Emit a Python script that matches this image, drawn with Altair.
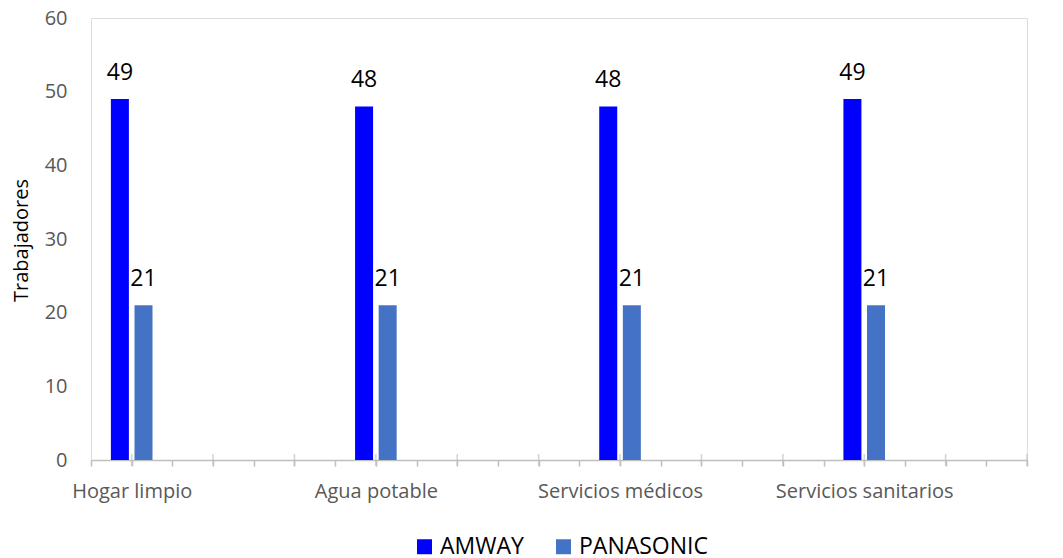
import altair as alt
import pandas as pd

# ---- data ----
categories = ["Hogar limpio", "Agua potable", "Servicios médicos", "Servicios sanitarios"]
series = ["AMWAY", "PANASONIC"]
amway = [49, 48, 48, 49]
panasonic = [21, 21, 21, 21]
colors = ["#0000FF", "#4472C4"]

FONT = "Open Sans"
AXIS_GRAY = "#BFBFBF"
LABEL_GRAY = "#595959"

# category slots on the axis (Excel-like category axis with tick slots)
n_slots = 23
first_slot = 1
slot_step = 6
offsets = {"AMWAY": -0.29, "PANASONIC": 0.29}

rows = []
for i, cat in enumerate(categories):
    pos = first_slot + slot_step * i
    for s, vals in zip(series, [amway, panasonic]):
        rows.append({"cat": cat, "serie": s, "valor": vals[i], "pos": pos + offsets[s]})
df = pd.DataFrame(rows)

cross_ticks = pd.DataFrame({"pos": list(range(1, n_slots + 1, 2))})

label_expr = " : ".join(
    f"datum.value == {first_slot + slot_step * i} ? '{c}'" for i, c in enumerate(categories)
) + " : ''"

xscale = alt.Scale(domain=[0, n_slots], nice=False, zero=False, padding=0)
yscale = alt.Scale(domain=[0, 60], nice=False)

x_enc = alt.X(
    "pos:Q",
    scale=xscale,
    axis=alt.Axis(
        values=list(range(n_slots + 1)),
        labelExpr=label_expr,
        title=None,
        grid=False,
        domainColor=AXIS_GRAY,
        domainWidth=1.5,
        tickColor=AXIS_GRAY,
        tickWidth=1.5,
        tickSize=6,
        labelFontSize=20,
        labelColor=LABEL_GRAY,
        labelFont=FONT,
        labelPadding=15,
        labelOverlap=False,
        labelFlush=False,
        labelBound=False,
    ),
)

y_enc = alt.Y(
    "valor:Q",
    scale=yscale,
    axis=alt.Axis(
        values=[0, 10, 20, 30, 40, 50, 60],
        title="Trabajadores",
        grid=False,
        domain=False,
        ticks=False,
        tickSize=0,
        labelFontSize=20,
        labelColor=LABEL_GRAY,
        labelFont=FONT,
        labelPadding=24,
        titleFont=FONT,
        titleFontSize=20,
        titleFontWeight="normal",
        titleColor="#000000",
        titleAngle=-90,
        titleAlign="center",
        titleBaseline="alphabetic",
        titleX=-64,
        titleY=222,
    ),
)

color_enc = alt.Color(
    "serie:N",
    scale=alt.Scale(domain=series, range=colors),
    legend=alt.Legend(
        title=None,
        orient="none",
        legendX=322,
        legendY=517,
        direction="horizontal",
        symbolType="square",
        symbolSize=225,
        symbolStrokeWidth=0,
        labelFontSize=23,
        labelFont=FONT,
        labelColor="#000000",
        labelOffset=4,
        columnPadding=28,
        padding=0,
    ),
)

bars = alt.Chart(df).mark_bar(size=18).encode(
    x=x_enc,
    y=y_enc,
    color=color_enc,
)

labels = alt.Chart(df).mark_text(
    font=FONT, fontSize=23, color="#000000", baseline="alphabetic", dy=-19.5
).encode(
    x=alt.X("pos:Q", scale=xscale),
    y=alt.Y("valor:Q", scale=yscale),
    text="valor:Q",
)

ticks = alt.Chart(cross_ticks).mark_tick(
    orient="vertical", size=12, thickness=1.5, color=AXIS_GRAY
).encode(
    x=alt.X("pos:Q", scale=xscale),
    y=alt.datum(0),
)

chart = (
    alt.layer(bars, labels, ticks)
    .properties(
        width=936,
        height=442,
        autosize=alt.AutoSizeParams(type="none"),
        padding={"left": 83, "top": 10, "right": 28, "bottom": 98},
    )
    .configure_view(strokeWidth=0, stroke="transparent")
    .configure(font=FONT)
)

chart.save("out.html", embed_options={"renderer": "svg", "actions": False})
